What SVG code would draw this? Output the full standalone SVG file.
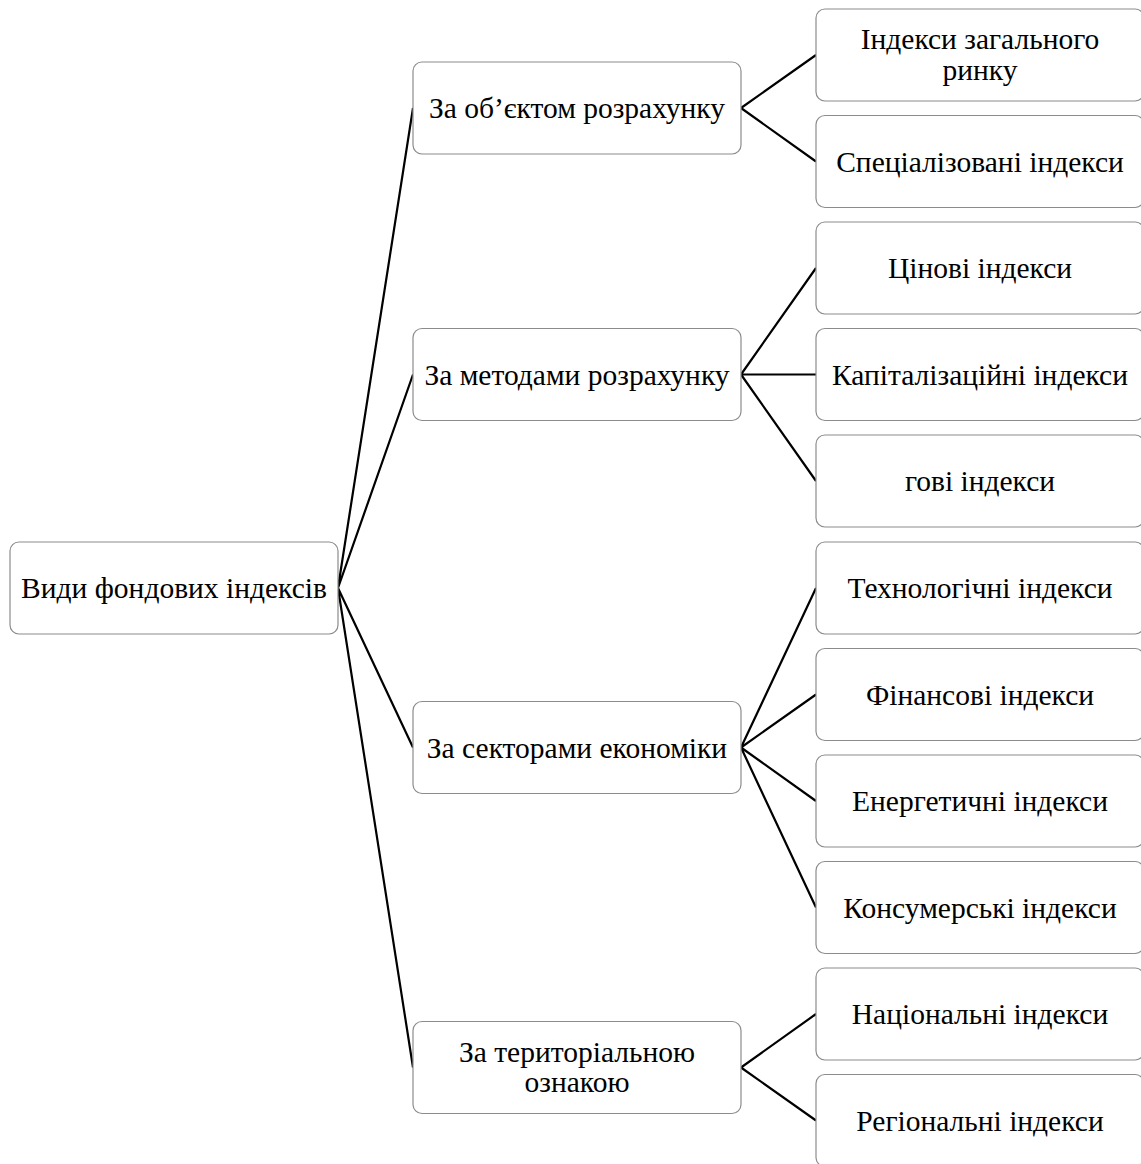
<svg xmlns="http://www.w3.org/2000/svg" width="1141" height="1164" viewBox="0 0 1141 1164">
<style>
.box{fill:#ffffff;stroke:#8c8c8c;stroke-width:1.2}
.t{font-family:"Liberation Serif","Times New Roman",serif;font-size:29.5px;fill:#000;text-anchor:middle}
.c{stroke:#000;stroke-width:2.2;fill:none}
</style>
<rect width="1141" height="1164" fill="#ffffff"/>
<g id="connectors">
<path class="c" d="M338 588 L413 108 M338 588 L413 374.5 M338 588 L413 747.5 M338 588 L413 1067.5"/>
<path class="c" d="M741 108 L816 55 M741 108 L816 161.5"/>
<path class="c" d="M741 374.5 L816 268 M741 374.5 L816 374.5 M741 374.5 L816 481"/>
<path class="c" d="M741 747.5 L816 588 M741 747.5 L816 694.5 M741 747.5 L816 801 M741 747.5 L816 907.5"/>
<path class="c" d="M741 1067.5 L816 1014 M741 1067.5 L816 1120.5"/>
</g>
<g id="root"><rect class="box" x="10" y="542" width="328" height="92" rx="9"/><text class="t" x="174" y="598">Види фондових індексів</text></g>
<g id="n1"><rect class="box" x="413" y="62" width="328" height="92" rx="9"/><text class="t" x="577" y="118">За об’єктом розрахунку</text></g>
<g id="n2"><rect class="box" x="413" y="328.5" width="328" height="92" rx="9"/><text class="t" x="577" y="384.5">За методами розрахунку</text></g>
<g id="n3"><rect class="box" x="413" y="701.5" width="328" height="92" rx="9"/><text class="t" x="577" y="757.5">За секторами економіки</text></g>
<g id="n4"><rect class="box" x="413" y="1021.5" width="328" height="92" rx="9"/><text class="t" x="577" y="1061.5">За територіальною</text><text class="t" x="577" y="1092">ознакою</text></g>
<g id="n1a"><rect class="box" x="816" y="9" width="328" height="92" rx="9"/><text class="t" x="980" y="49">Індекси загального</text><text class="t" x="980" y="79.5">ринку</text></g>
<g id="n1b"><rect class="box" x="816" y="115.5" width="328" height="92" rx="9"/><text class="t" x="980" y="171.5">Спеціалізовані індекси</text></g>
<g id="n2a"><rect class="box" x="816" y="222" width="328" height="92" rx="9"/><text class="t" x="980" y="278">Цінові індекси</text></g>
<g id="n2b"><rect class="box" x="816" y="328.5" width="328" height="92" rx="9"/><text class="t" x="980" y="384.5">Капіталізаційні індекси</text></g>
<g id="n2c"><rect class="box" x="816" y="435" width="328" height="92" rx="9"/><text class="t" x="980" y="491">гові індекси</text></g>
<g id="n3a"><rect class="box" x="816" y="542" width="328" height="92" rx="9"/><text class="t" x="980" y="598">Технологічні індекси</text></g>
<g id="n3b"><rect class="box" x="816" y="648.5" width="328" height="92" rx="9"/><text class="t" x="980" y="704.5">Фінансові індекси</text></g>
<g id="n3c"><rect class="box" x="816" y="755" width="328" height="92" rx="9"/><text class="t" x="980" y="811">Енергетичні індекси</text></g>
<g id="n3d"><rect class="box" x="816" y="861.5" width="328" height="92" rx="9"/><text class="t" x="980" y="917.5">Консумерські індекси</text></g>
<g id="n4a"><rect class="box" x="816" y="968" width="328" height="92" rx="9"/><text class="t" x="980" y="1024">Національні індекси</text></g>
<g id="n4b"><rect class="box" x="816" y="1074.5" width="328" height="92" rx="9"/><text class="t" x="980" y="1130.5">Регіональні індекси</text></g>
</svg>
